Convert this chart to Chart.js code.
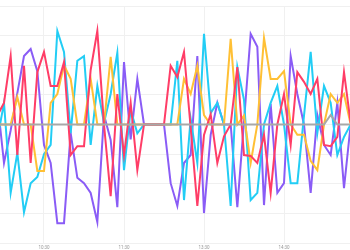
<!DOCTYPE html>
<html>
<head>
<meta charset="utf-8">
<script src="https://cdn.jsdelivr.net/npm/chart.js@4"></script>
<style>
  html, body { margin: 0; padding: 0; background: #fff; }
  #wrap { width: 350px; height: 250px; }
</style>
</head>
<body>
<div id="wrap"><canvas id="chart"></canvas></div>
<script>
const times = [
  '09:55', '10:00', '10:05', '10:10', '10:15', '10:20', '10:25', '10:30', '10:35', '10:40',
  '10:45', '10:50', '10:55', '11:00', '11:05', '11:10', '11:15', '11:20', '11:25', '11:30',
  '11:35', '11:40', '11:45', '12:10', '12:35', '13:00', '13:05', '13:10', '13:15', '13:20',
  '13:25', '13:30', '13:35', '13:40', '13:45', '13:50', '13:55', '14:00', '14:05', '14:10',
  '14:15', '14:20', '14:25', '14:30', '14:35', '14:40', '14:45', '14:50', '14:55', '15:00',
  '15:05', '15:10', '15:15', '15:20'
];
const tickLabels = ['10:30', '11:30', '13:30', '14:30'];

const redVals = [
  0.3, 0.73, 2.31, -1.03, 1.98, -1.3, 1.77, 2.45, 1.3, 1.3,
  2.11, -1.03, -0.73, -0.73, 1.84, 3.16, 0, -2.42, 1.03, -1.03,
  0.73, -1.54, 0, 0, 0, 0, 1.98, 1.6, 2.45, -0.1,
  -2.75, -0.35, 0.35, -1.3, -0.4, 0, 1.94, -1.03, -1.06, -1.3,
  -0.35, -2.31, 0, 1.03, -0.69, 1.77, 1.44, 1.03, 1.54, -0.69,
  -0.73, -0.42, 1.77, 0.05
];
const cyanVals = [
  -0.5, 0.73, -2.31, -0.96, -2.96, -1.98, -1.77, -1.0, -0.69, 3.16,
  2.45, -0.29, 2.15, 2.31, -0.69, 1.3, 0.05, 1.03, 2.42, -1.54,
  0.5, -0.3, 0, 0, 0, 0, 0, 2.15, -2.55, 0.2,
  -1.3, 3.06, 0.39, 0.73, 0, -2.75, 1.94, 0.83, -2.55, -2.31,
  0, 0.73, 1.3, 0, -1.98, -1.98, 0.3, 2.45, -0.29, 1.3,
  0.73, -1.03, -0.42, 0
];
const yellowVals = [
  0, 0, 0, 0.93, 0, 0, -1.57, -1.57, 0.73, 1.03,
  2.0, 1.54, 0, 0, 1.54, 0, 0, 2.28, 0, 0,
  0, 0, 0, 0, 0, 0, 0, 0, 1.54, 1.03,
  1.98, 0.32, 0, 0, 0, 2.89, 0, 0.3, -1.3, 0,
  2.92, 1.54, 1.54, 1.8, 0, -0.35, -0.35, -1.23, -1.54, 0,
  1.03, 0.73, 1.03, 0
];
const purpleVals = [
  0.8, -1.3, -0.2, 1.06, 2.31, 2.55, 1.8, -0.69, -1.3, -3.33,
  -3.33, -0.29, -1.8, -1.98, -2.31, -3.29, 0.32, -0.52, -2.79, 2.11,
  -0.5, 1.54, 0, 0, 0, 0, -1.98, -2.75, -1.3, -1.03,
  2.31, -2.99, -0.35, 0.73, 0, 0, -2.79, 0.1, 3.06, 2.62,
  -2.72, 0.7, -2.31, -1.98, 2.31, 1.03, 0, -2.31, 0.32, -0.69,
  -1.03, 0.73, -2.15, 0
];
const greyVals = [
  0, 0, 0, 0, 0, 0, 0, 0, 0, 0,
  0, 0, 0, 0, 0, 0, 0, 0, 0, 0,
  0, 0, 0, 0, 0, 0, 0, 0, 0, 0,
  0, 0, 0, 0, 0, 0, 0, 0, 0, 0,
  0, 0, 0, 0, 0, 0, 0, 0, 0, 0,
  0.32, 0, 0, 0
];

function toPoints(vals) {
  return vals.map((v, i) => ({ x: i, y: v }));
}

function line(vals, color) {
  return {
    data: toPoints(vals),
    borderColor: color,
    backgroundColor: color,
    borderWidth: 2,
    pointRadius: 0,
    tension: 0,
    fill: false
  };
}

const ctx = document.getElementById('chart').getContext('2d');
new Chart(ctx, {
  type: 'line',
  data: {
    datasets: [
      line(greyVals, '#a8a8a8'),
      line(redVals, '#ff3d67'),
      line(yellowVals, '#ffc035'),
      line(cyanVals, '#22cdf5'),
      line(purpleVals, '#8a5cf6')
    ]
  },
  options: {
    animation: false,
    responsive: true,
    maintainAspectRatio: false,
    layout: { padding: { top: 6, left: 0, right: 0, bottom: 0 } },
    plugins: { legend: { display: false }, tooltip: { enabled: false } },
    scales: {
      x: {
        type: 'linear',
        min: 0.4,
        max: 52.9,
        afterBuildTicks(scale) {
          scale.ticks = tickLabels.map(t => ({ value: times.indexOf(t) }));
        },
        afterFit(scale) {
          scale.height = 7;
        },
        ticks: {
          callback: v => times[v],
          color: '#999',
          font: { size: 4.5, family: 'Roboto' },
          padding: 2,
          maxRotation: 0,
          autoSkip: false
        },
        grid: { color: '#f0f0f0', drawTicks: false },
        border: { display: false }
      },
      y: {
        min: -4,
        max: 4,
        ticks: { display: false, stepSize: 1 },
        grid: { color: '#f0f0f0', drawTicks: false },
        border: { display: false }
      }
    }
  }
});
</script>
</body>
</html>
